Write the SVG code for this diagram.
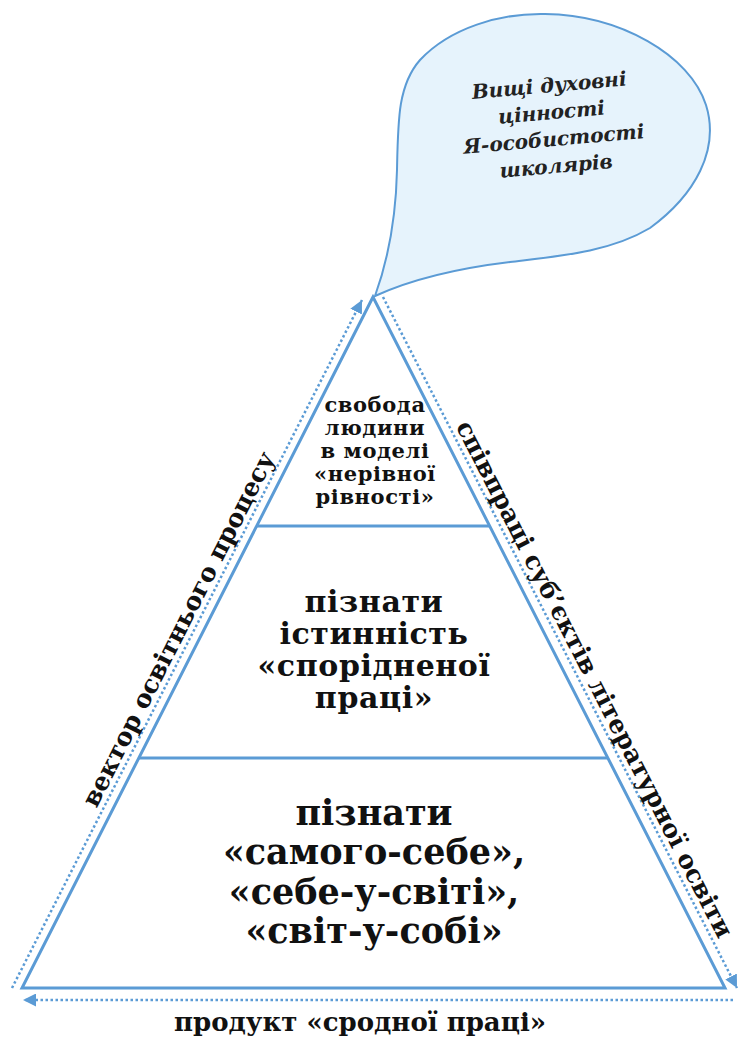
<svg xmlns="http://www.w3.org/2000/svg" width="744" height="1039" viewBox="0 0 744 1039">
<defs>
<style>
.edge{fill:none;stroke:#5b9bd5;stroke-width:3}
.dot{fill:none;stroke:#5b9bd5;stroke-width:2.5;stroke-dasharray:2.5 2.5}
.t{font-family:"DejaVu Serif","Liberation Serif",serif;font-weight:bold;fill:#111;text-anchor:middle}
.tl{font-size:21px;letter-spacing:0.6px}
.tm{font-size:30px;letter-spacing:0.6px}
.bt{font-family:"DejaVu Serif","Liberation Serif",serif;font-weight:bold;font-style:italic;fill:#222;text-anchor:middle;font-size:20px}
</style>
<marker id="ah" viewBox="0 0 10 10" refX="10" refY="5" markerWidth="13" markerHeight="13" markerUnits="userSpaceOnUse" orient="auto">
<path d="M0,0 L10,5 L0,10 Z" fill="#5b9bd5"/>
</marker>
</defs>
<rect width="744" height="1039" fill="#fff"/>
<g id="bubble">
<path d="M375,296 C388,260 396,215 397,170 C398,120 398,85 420,60 C450,28 500,13 545,14 C620,15 690,55 706,105 C720,150 695,195 650,228 C610,252 560,256 510,262 C460,268 410,280 375,296 Z" fill="#e6f3fc" stroke="#5b9bd5" stroke-width="2"/>
<g transform="rotate(-5 553 130)">
<text class="bt" x="553" y="92">Вищі духовні</text>
<text class="bt" x="553" y="119">цінності</text>
<text class="bt" x="553" y="146">Я-особистості</text>
<text class="bt" x="553" y="173">школярів</text>
</g>
</g>
<g id="pyramid">
<polygon class="edge" points="373,297 22,988 725,988"/>
<line class="edge" x1="256.7" y1="526" x2="489.5" y2="526"/>
<line class="edge" x1="138.8" y1="758" x2="607.6" y2="758"/>
</g>
<g id="top-level">
<text class="t tl" x="375" y="412">свобода</text>
<text class="t tl" x="375" y="435">людини</text>
<text class="t tl" x="375" y="458">в моделі</text>
<text class="t tl" x="375" y="481">«нерівної</text>
<text class="t tl" x="375" y="504">рівності»</text>
</g>
<g id="middle-level">
<text class="t tm" x="374" y="612">пізнати</text>
<text class="t tm" x="374" y="644">істинність</text>
<text class="t tm" x="374" y="676">«спорідненої</text>
<text class="t tm" x="374" y="708">праці»</text>
</g>
<g id="bottom-level">
<text class="t" font-size="35" x="374" y="825">пізнати</text>
<text class="t" font-size="35" x="374" y="864">«самого-себе»,</text>
<text class="t" font-size="35" x="374" y="904">«себе-у-світі»,</text>
<text class="t" font-size="35" x="374" y="943">«світ-у-собі»</text>
</g>
<g id="connectors">
<line class="dot" x1="12" y1="988" x2="362" y2="300" marker-end="url(#ah)"/>
<line class="dot" x1="383" y1="297" x2="737" y2="988" marker-end="url(#ah)"/>
<line class="dot" x1="733" y1="1000" x2="23" y2="1000" marker-end="url(#ah)"/>
</g>
<g id="labels">
<text class="t" font-size="25" transform="translate(186 633) rotate(-63.04)">вектор освітнього процесу</text>
<text class="t" font-size="25" transform="translate(587 683) rotate(62.87)">співпраці суб’єктів літературної освіти</text>
<text class="t" font-size="26" x="360" y="1031">продукт «сродної праці»</text>
</g>
</svg>
